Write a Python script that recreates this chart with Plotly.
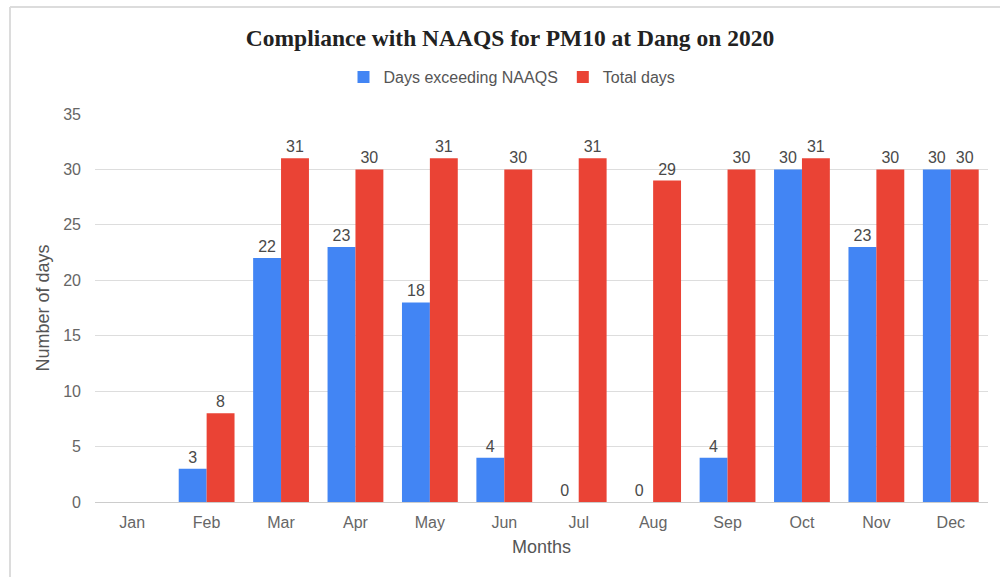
import plotly.graph_objects as go

months = ["Jan", "Feb", "Mar", "Apr", "May", "Jun", "Jul", "Aug", "Sep", "Oct", "Nov", "Dec"]
days_exceeding = [None, 3, 22, 23, 18, 4, 0, 0, 4, 30, 23, 30]
total_days = [None, 8, 31, 30, 31, 30, 31, 29, 30, 31, 30, 30]
y_ticks = [0, 5, 10, 15, 20, 25, 30, 35]

BLUE = "#4285F4"
RED = "#EA4335"
SANS = "Liberation Sans, Arial, sans-serif"


def labels(vals):
    return ["" if v is None else str(v) for v in vals]


fig = go.Figure()
fig.add_trace(go.Bar(
    x=months, y=days_exceeding, name="Days exceeding NAAQS",
    marker=dict(color=BLUE, line=dict(width=0)),
    text=labels(days_exceeding), textposition="outside", cliponaxis=False,
    textfont=dict(family=SANS, size=16, color="#4a4a4a"),
))
fig.add_trace(go.Bar(
    x=months, y=total_days, name="Total days",
    marker=dict(color=RED, line=dict(width=0)),
    text=labels(total_days), textposition="outside", cliponaxis=False,
    textfont=dict(family=SANS, size=16, color="#4a4a4a"),
))

# plot area geometry (pixels) used to place the frame lines in paper coords
W, H = 1000, 577
ML, MR, MT, MB = 95, 12, 114, 75
PW, PH = W - ML - MR, H - MT - MB


def px_x(px):
    return (px - ML) / PW


def px_y(py):
    return (H - MB - py) / PH


frame = dict(color="#dcdcdc", width=2)
shapes = [
    dict(type="line", xref="paper", yref="paper",
         x0=px_x(10), x1=px_x(1000), y0=px_y(7), y1=px_y(7), line=frame),
    dict(type="line", xref="paper", yref="paper",
         x0=px_x(10), x1=px_x(10), y0=px_y(7), y1=px_y(577), line=frame),
]

fig.update_layout(
    width=W, height=H,
    margin=dict(l=ML, r=MR, t=MT, b=MB),
    paper_bgcolor="white", plot_bgcolor="white",
    barmode="group", bargap=0.25, bargroupgap=0,
    title=dict(
        text="<b>Compliance with NAAQS for PM10 at Dang on 2020</b>",
        font=dict(family="Liberation Serif, DejaVu Serif, serif", size=23.5, color="#222222"),
        x=510 / W, xanchor="center",
        y=1 - 38 / H, yanchor="middle",
    ),
    legend=dict(
        orientation="h", x=px_x(512), xanchor="center", y=px_y(77), yanchor="middle",
        font=dict(family=SANS, size=16, color="#555555"),
        itemwidth=30, traceorder="normal",
    ),
    shapes=shapes,
    xaxis=dict(
        title=dict(text="Months", font=dict(family=SANS, size=18, color="#555555"), standoff=10),
        tickfont=dict(family=SANS, size=16, color="#666666"),
        showline=False, showgrid=False, ticks="", ticklabelstandoff=9,
    ),
    yaxis=dict(
        title=dict(text="Number of days", font=dict(family=SANS, size=18, color="#555555"), standoff=8),
        range=[0, 35], tickvals=y_ticks, ticktext=[str(t) for t in y_ticks],
        tickfont=dict(family=SANS, size=16, color="#666666"),
        showgrid=True, gridcolor="#dddddd", gridwidth=1,
        zeroline=True, zerolinecolor="#cccccc", zerolinewidth=1,
        ticks="", ticklabelstandoff=13,
    ),
)

fig.write_html("out.html")
